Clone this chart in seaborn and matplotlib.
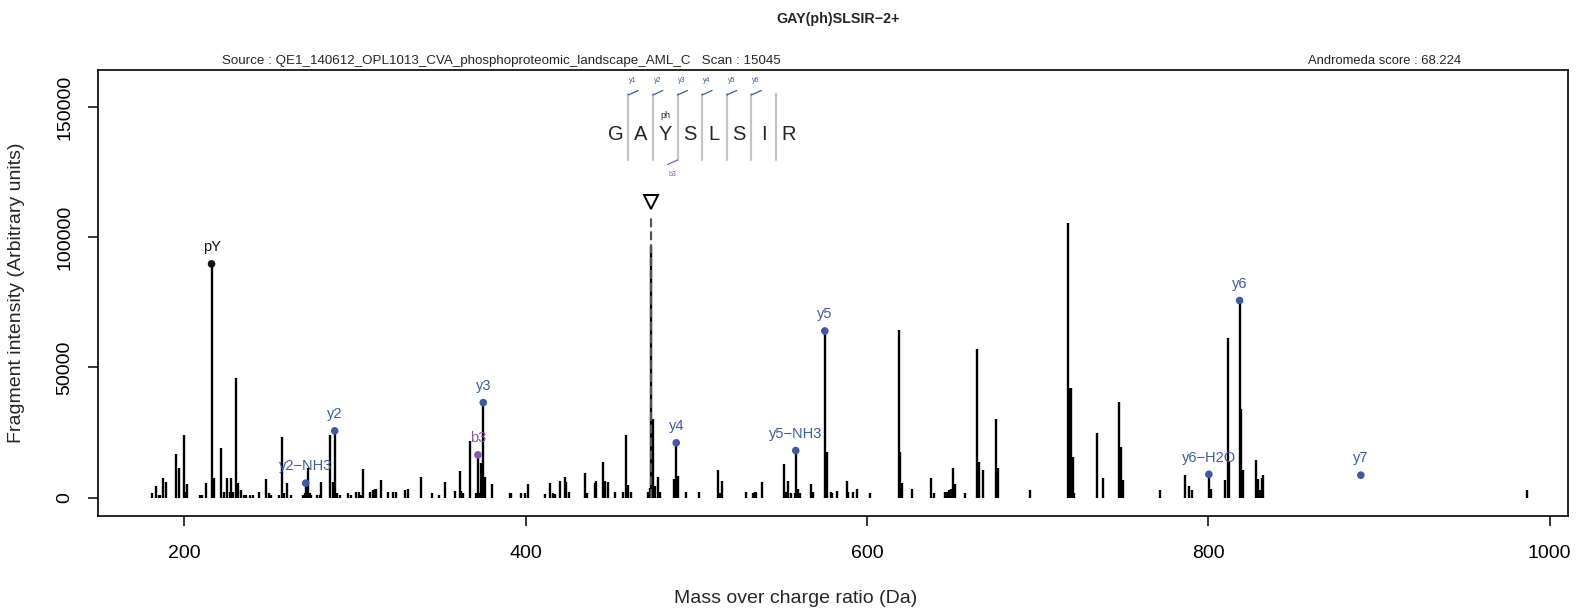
import numpy as np
import pandas as pd
import matplotlib
matplotlib.use("Agg")
import matplotlib.pyplot as plt
import seaborn as sns

# ---------------- data ----------------
mz = [181.2, 183.2, 185.1, 186.1, 187.5, 189.4, 195.3, 197.2, 199.6, 200.4, 201.5,
      209.0, 210.6, 212.5, 216.04, 217.4, 221.5, 223.6, 225.2, 226.6, 227.5, 228.5,
      230.5, 231.5, 233.5, 235.0, 236.3, 238.3, 240.6, 244.1, 248.0, 249.6, 251.0,
      255.4, 257.4, 258.2, 260.4, 262.7, 269.5, 270.5, 271.18, 272.4, 273.5, 274.4,
      277.9, 279.3, 279.9, 285.2, 287.1, 288.2, 289.7, 291.0, 295.9, 297.9, 300.8,
      302.4, 303.4, 304.7, 308.7, 310.6, 311.6, 312.5, 315.5, 319.4, 322.3, 324.3,
      329.1, 331.1, 338.7,
      345.4, 349.3, 352.6, 358.4, 361.4, 362.4, 363.3, 367.6, 371.2, 372.10, 373.1,
      374.1, 375.24, 376.4, 380.5, 390.7, 391.7, 397.5, 399.5, 401.4, 411.2, 414.5,
      416.1, 417.5, 420.4, 422.9, 423.9, 425.4, 435.1, 436.2, 440.9, 441.5, 445.4,
      446.4, 448.6, 452.6, 457.3, 458.7, 459.8, 461.5, 471.8, 472.8, 473.72, 474.7,
      475.7, 477.6, 478.6, 486.8, 488.32, 489.6, 494.0, 501.4, 513.0, 513.8, 515.4,
      529.4, 533.3, 534.3, 535.3, 538.6, 551.3, 552.5, 553.5, 555.8, 557.7, 558.32,
      559.7, 560.7, 567.5, 568.5, 575.35, 576.7, 578.7, 579.8, 582.5, 588.4, 589.0,
      591.6, 594.4, 601.7, 618.7, 619.6, 620.6, 626.5, 637.5, 639.6, 645.7, 646.7,
      648.2, 649.2, 650.5, 651.7, 657.6, 664.4, 665.4, 667.8, 675.4, 676.6, 695.5,
      717.6, 718.4, 719.6, 720.5, 721.5, 734.6, 738.5, 747.7, 748.8, 749.8, 771.7,
      786.4, 788.6, 790.4, 800.37, 801.4, 809.6, 811.5, 812.3, 818.38, 819.2, 820.5,
      828.1, 829.0, 830.4, 831.3, 832.3, 986.7]
intensity = [1690, 4490, 1040, 1040, 7440, 6140, 16770, 11400, 23940, 2300, 5260,
             1040, 1040, 5520, 89700, 7440, 18950, 2300, 7440, 2300, 7440, 2300,
             45800, 5520, 2950, 1040, 1040, 1040, 1040, 2300, 7050, 1690, 1040,
             1040, 23400, 1690, 5520, 1040, 1040, 1690, 5520, 11280, 1690, 1040,
             1040, 1040, 6140, 24060, 6140, 25600, 1690, 1040, 1690, 1040, 2300,
             2300, 1040, 10900, 2300, 2950, 3200, 3200, 6780, 2300, 2050, 2300,
             2950, 3200, 7830,
             1920, 1040, 6140, 2690, 10250, 2690, 1690, 21870, 1690, 16380, 1920,
             13200, 36450, 7830, 5000, 1690, 1690, 1690, 1690, 5100, 1410, 5520,
             1920, 1410, 6530, 7830, 6140, 2300, 9360, 1920, 5520, 6530, 13600,
             6300, 6140, 2000, 2000, 24000, 4800, 2000, 2000, 3840, 96400, 30200,
             4500, 8000, 2000, 7200, 21000, 8300, 2100, 2000, 10750, 1660, 6400,
             2050, 1690, 2050, 2300, 6140, 12800, 2050, 6400, 1690, 1690, 18030,
             3200, 1690, 5000, 2050, 63960, 17650, 2300, 1690, 2560, 6530, 2000,
             2100, 3200, 1800, 64200, 17650, 5400, 3200, 7400, 1800, 2300, 2300,
             2800, 3200, 11500, 5100, 1920, 57170, 13800, 10490, 30060, 11500, 2940,
             105260, 41950, 41950, 15730, 1920, 24690, 7550, 36840, 19570, 6650, 2750,
             8630, 4400, 3000, 8900, 3400, 6600, 61200, 14000, 75650, 33800, 10400,
             14250, 7200, 2750, 7500, 8650, 2940]

ion_labels = ["pY", "y2\u2212NH3", "y2", "b3", "y3", "y4", "y5\u2212NH3", "y5",
              "y6\u2212H2O", "y6", "y7"]
ion_mz = [216.04, 271.18, 288.20, 372.10, 375.24, 488.32, 558.32, 575.35,
          800.37, 818.38, 889.42]
ion_int = [89700, 5520, 25600, 16380, 36450, 21000, 18030, 63960, 8900, 75650, 8570]
ion_type = ["immonium", "y", "y", "b", "y", "y", "y", "y", "y", "y", "y"]

precursor_mz = 473.72
precursor_mark = 113500

sequence = ["G", "A", "Y", "S", "L", "S", "I", "R"]
y_marks = ["y1", "y2", "y3", "y4", "y5", "y6"]
b_marks = {2: "b3"}

title = "GAY(ph)SLSIR\u22122+"
source_text = "Source : QE1_140612_OPL1013_CVA_phosphoproteomic_landscape_AML_C   Scan : 15045"
score_text = "Andromeda score : 68.224"

# ---------------- style ----------------
sns.set_theme(style="white")
plt.rcParams["font.family"] = ["Liberation Sans", "DejaVu Sans"]

W, H = 1596, 611
fig = plt.figure(figsize=(W / 100, H / 100), dpi=100)
L, R, T, B = 98, 1567.5, 70.2, 516
ax = fig.add_axes([L / W, 1 - B / H, (R - L) / W, (B - T) / H])

def fx(px):
    return px / W

def fy(py):
    return 1 - py / H

BLUE = "#3f58a8"
PURPLE = "#8a5aa8"
palette = {"immonium": "#111111", "y": BLUE, "b": PURPLE}

df = pd.DataFrame({"mz": mz, "intensity": intensity})
ions = pd.DataFrame({"label": ion_labels, "mz": ion_mz, "intensity": ion_int, "type": ion_type})

# peak sticks
ax.vlines(df["mz"], 0, df["intensity"], colors="black", lw=1.7, zorder=2)

# precursor dashed marker (drawn over the peak)
ax.vlines([precursor_mz], 0, precursor_mark - 5000, colors="#555555", lw=1.6,
          linestyles=(0, (4, 1.8)), zorder=3)
ax.plot([precursor_mz], [precursor_mark], marker="v", ms=10, mfc="white", mec="black",
        mew=1.4, ls="none", zorder=4)

# annotated ions
sns.scatterplot(data=ions, x="mz", y="intensity", hue="type", palette=palette,
                s=30, linewidth=0, legend=False, ax=ax, zorder=5)
for _, r in ions.iterrows():
    ax.annotate(r["label"], (r["mz"], r["intensity"]), xytext=(0, 7),
                textcoords="offset points", ha="center", va="bottom",
                fontsize=10.5, color=palette[r["type"]], zorder=6)

ax.set_xlim(149.5, 1010.5)
ax.set_ylim(-7100, 164100)
ax.set_xticks([200, 400, 600, 800, 1000])
ax.set_yticks([0, 50000, 100000, 150000])
ax.set_xticklabels(["200", "400", "600", "800", "1000"])
ax.set_yticklabels(["0", "50000", "100000", "150000"], rotation=90, va="center")
ax.tick_params(axis="both", which="both", direction="out", length=7, width=1.1,
               labelsize=14, color="black", labelcolor="black", bottom=True, left=True)
ax.tick_params(axis="x", pad=14)
ax.tick_params(axis="y", pad=10.5)
for s in ax.spines.values():
    s.set_color("black")
    s.set_linewidth(1.2)
ax.set_xlabel("")
ax.set_ylabel("")
ax.grid(False)

fig.text(fx(796), fy(598.5), "Mass over charge ratio (Da)", ha="center", va="center", fontsize=14)
fig.text(fx(16.5), fy(293), "Fragment intensity (Arbitrary units)", ha="center", va="center",
         rotation=90, fontsize=14)
fig.text(fx(838), fy(19.5), title, ha="center", va="center", fontsize=10.3, fontweight="bold")
fig.text(fx(222), fy(61), source_text, ha="left", va="center", fontsize=9.6)
fig.text(fx(1385), fy(61), score_text, ha="center", va="center", fontsize=9.4)

# peptide sequence diagram
x0, step, yc = 616, 24.6, 135
for i, aa in enumerate(sequence):
    fig.text(fx(x0 + i * step), fy(yc), aa, ha="center", va="center", fontsize=14.5)
fig.text(fx(x0 + 2 * step), fy(116), "ph", ha="center", va="center", fontsize=6.5)
for i in range(len(sequence) - 1):
    sx = x0 + step / 2 + i * step
    fig.add_artist(plt.Line2D([fx(sx), fx(sx)], [fy(94), fy(160)], color="#c4c4c4", lw=1.6,
                              transform=fig.transFigure))
for i, lab in enumerate(y_marks):
    sx = x0 + step / 2 + i * step
    fig.add_artist(plt.Line2D([fx(sx), fx(sx + 10)], [fy(95), fy(90.5)], color=BLUE, lw=0.9,
                              transform=fig.transFigure))
    fig.text(fx(sx + 4.5), fy(80.5), lab, ha="center", va="center", fontsize=5, color=BLUE)
for i, lab in b_marks.items():
    sx = x0 + step / 2 + i * step
    fig.add_artist(plt.Line2D([fx(sx), fx(sx - 10)], [fy(160), fy(164.5)], color=PURPLE, lw=0.9,
                              transform=fig.transFigure))
    fig.text(fx(sx - 5), fy(174.5), lab, ha="center", va="center", fontsize=5, color=PURPLE)

fig.savefig("out.png", dpi=100, facecolor="white")
